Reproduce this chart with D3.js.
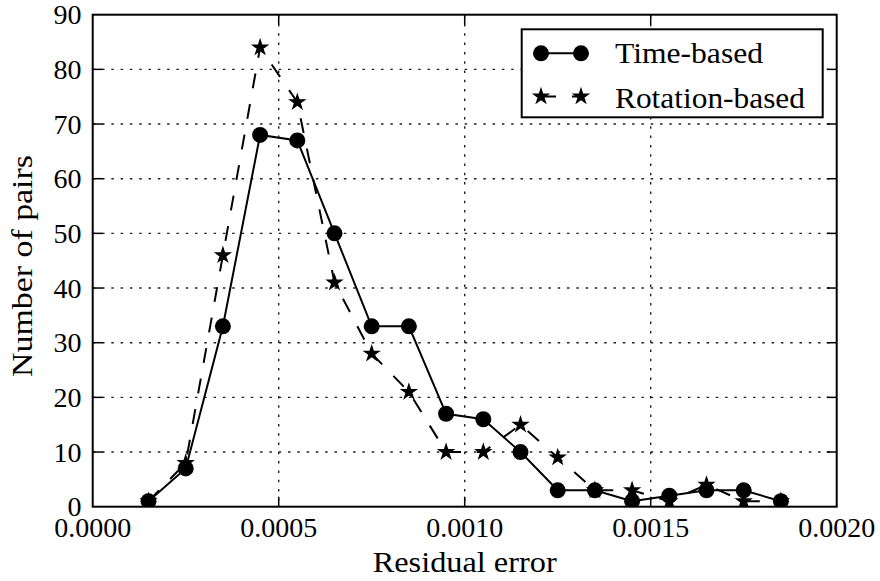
<!DOCTYPE html>
<html>
<head>
<meta charset="utf-8">
<script src="https://cdn.jsdelivr.net/npm/d3@7"></script>
<style>
  html, body { margin: 0; padding: 0; background: #fff; }
  svg { display: block; }
  text { font-family: 'Liberation Serif', 'Times New Roman', Times, serif; }
</style>
</head>
<body>
<svg id="chart" width="880" height="581"></svg>
<script>
// Histogram of residual errors: bin centres and counts per method
const binCenters = [0.00015, 0.00025, 0.00035, 0.00045, 0.00055, 0.00065, 0.00075, 0.00085, 0.00095,
                    0.00105, 0.00115, 0.00125, 0.00135, 0.00145, 0.00155, 0.00165, 0.00175, 0.00185];
const timeBased     = [1, 7, 33, 68, 67, 50, 33, 33, 17, 16, 10, 3, 3, 1, 2, 3, 3, 1];
const rotationBased = [1, 8, 46, 84, 74, 41, 28, 21, 10, 10, 15, 9, 3, 3, 1, 4, 1, 1];
const seriesNames = ["Time-based", "Rotation-based"];
const xTicks = [0, 0.0005, 0.001, 0.0015, 0.002];
const yTicks = [0, 10, 20, 30, 40, 50, 60, 70, 80, 90];

const svg = d3.select("#chart");
const plotL = 92.7, plotR = 836.7, plotT = 14.7, plotB = 506.7;

const x = d3.scaleLinear().domain([0, 0.002]).range([plotL, plotR]);
const y = d3.scaleLinear().domain([0, 90]).range([plotB, plotT]);

svg.append("defs").append("clipPath").attr("id", "plotClip")
  .append("rect").attr("x", plotL).attr("y", plotT)
  .attr("width", plotR - plotL).attr("height", plotB - plotT);

// dotted grid
const grid = svg.append("g").attr("stroke", "#222").attr("stroke-width", 1.4)
  .attr("stroke-dasharray", "2.5,6.8");
grid.selectAll("line.gx").data(xTicks.slice(1, -1)).join("line")
  .attr("x1", d => x(d)).attr("x2", d => x(d)).attr("y1", plotT).attr("y2", plotB);
grid.selectAll("line.gy").data(yTicks.slice(1, -1)).join("line")
  .attr("x1", plotL).attr("x2", plotR).attr("y1", d => y(d)).attr("y2", d => y(d));

// data lines and markers
const plot = svg.append("g").attr("clip-path", "url(#plotClip)");
const line = d3.line().x(d => x(d[0])).y(d => y(d[1]));
const timePts = binCenters.map((c, i) => [c, timeBased[i]]);
const rotPts = binCenters.map((c, i) => [c, rotationBased[i]]);
const star = d3.symbol().type(d3.symbolStar).size(62);

plot.append("path").datum(timePts).attr("d", line)
  .attr("fill", "none").attr("stroke", "#000").attr("stroke-width", 2);
plot.selectAll("circle.t").data(timePts).join("circle")
  .attr("cx", d => x(d[0])).attr("cy", d => y(d[1])).attr("r", 8).attr("fill", "#000");

plot.append("path").datum(rotPts).attr("d", line)
  .attr("fill", "none").attr("stroke", "#000").attr("stroke-width", 2)
  .attr("stroke-dasharray", "15,16");
plot.selectAll("path.r").data(rotPts).join("path")
  .attr("transform", d => `translate(${x(d[0])},${y(d[1])})`)
  .attr("d", star).attr("fill", "#000").attr("stroke", "#000")
  .attr("stroke-width", 1.4).attr("stroke-linejoin", "miter");

// axes: inward ticks on all four sides
const tickLen = 10;
const axesG = svg.append("g").attr("stroke", "#000");
axesG.selectAll("line.bt").data(xTicks.slice(1, -1)).join("line")
  .attr("x1", d => x(d)).attr("x2", d => x(d)).attr("y1", plotB).attr("y2", plotB - tickLen).attr("stroke-width", 1.5);
axesG.selectAll("line.tt").data(xTicks.slice(1, -1)).join("line")
  .attr("x1", d => x(d)).attr("x2", d => x(d)).attr("y1", plotT).attr("y2", plotT + tickLen).attr("stroke-width", 1.5);
axesG.selectAll("line.lt").data(yTicks.slice(1, -1)).join("line")
  .attr("x1", plotL).attr("x2", plotL + tickLen).attr("y1", d => y(d)).attr("y2", d => y(d)).attr("stroke-width", 1.5);
axesG.selectAll("line.rt").data(yTicks.slice(1, -1)).join("line")
  .attr("x1", plotR).attr("x2", plotR - tickLen).attr("y1", d => y(d)).attr("y2", d => y(d)).attr("stroke-width", 1.5);
axesG.append("rect").attr("x", plotL).attr("y", plotT).attr("width", plotR - plotL).attr("height", plotB - plotT)
  .attr("fill", "none").attr("stroke-width", 2);

// tick labels
svg.append("g").selectAll("text").data(xTicks).join("text")
  .attr("x", d => x(d)).attr("y", 536.5).attr("text-anchor", "middle")
  .attr("font-size", 28).text(d => d3.format(".4f")(d));
svg.append("g").selectAll("text").data(yTicks).join("text")
  .attr("x", 81.5).attr("y", d => y(d) + 9.5).attr("text-anchor", "end")
  .attr("font-size", 28).text(d => d);

// axis titles
svg.append("text").attr("x", (plotL + plotR) / 2).attr("y", 571.7).attr("text-anchor", "middle")
  .attr("font-size", 29).attr("textLength", 184).attr("lengthAdjust", "spacingAndGlyphs")
  .text("Residual error");
svg.append("text").attr("transform", `translate(31.7,266) rotate(-90)`).attr("text-anchor", "middle")
  .attr("font-size", 29).attr("textLength", 222).attr("lengthAdjust", "spacingAndGlyphs")
  .text("Number of pairs");

// legend
const lg = svg.append("g");
lg.append("rect").attr("x", 521.7).attr("y", 29.3).attr("width", 301).attr("height", 88)
  .attr("fill", "#fff").attr("stroke", "#000").attr("stroke-width", 2);
const lx1 = 541, lx2 = 581;
const row1 = 53.3, row2 = 96.5;
lg.append("line").attr("x1", lx1).attr("x2", lx2).attr("y1", row1).attr("y2", row1)
  .attr("stroke", "#000").attr("stroke-width", 2);
lg.selectAll("circle").data([lx1, lx2]).join("circle")
  .attr("cx", d => d).attr("cy", row1).attr("r", 8).attr("fill", "#000");
lg.append("text").attr("x", 615).attr("y", 63.3).attr("font-size", 29)
  .attr("textLength", 148).attr("lengthAdjust", "spacingAndGlyphs").text(seriesNames[0]);
lg.append("line").attr("x1", lx1).attr("x2", lx2).attr("y1", row2).attr("y2", row2)
  .attr("stroke", "#000").attr("stroke-width", 2).attr("stroke-dasharray", "15,16");
lg.selectAll("path.ls").data([lx1, lx2]).join("path")
  .attr("transform", d => `translate(${d},${row2})`).attr("d", star).attr("fill", "#000")
  .attr("stroke", "#000").attr("stroke-width", 1.4);
lg.append("text").attr("x", 615).attr("y", 107.5).attr("font-size", 29)
  .attr("textLength", 190).attr("lengthAdjust", "spacingAndGlyphs").text(seriesNames[1]);
</script>
</body>
</html>
